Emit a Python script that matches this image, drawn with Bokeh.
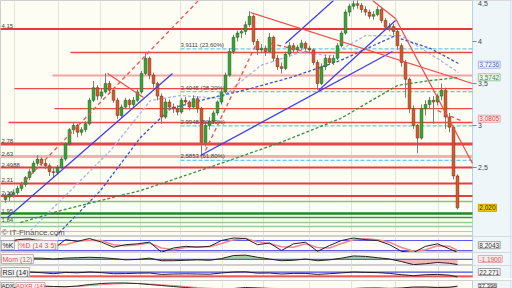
from bokeh.plotting import figure
from bokeh.layouts import column
from bokeh.models import Range1d, FixedTicker, Label, ColumnDataSource
from bokeh.embed import file_html
from bokeh.resources import INLINE

# ---------------- data ----------------
opens = [2.12, 2.15, 2.18, 2.20, 2.25, 2.30, 2.38, 2.45, 2.55, 2.60,
         2.55, 2.52, 2.45, 2.44, 2.50, 2.60, 2.78, 2.95, 3.00, 2.92,
         2.95, 3.02, 3.30, 3.45, 3.35, 3.40, 3.50, 3.42, 3.30, 3.12,
         3.22, 3.30, 3.25, 3.30, 3.40, 3.62, 3.80, 3.60, 3.50, 3.35,
         3.10, 3.28, 3.22, 3.20, 3.16, 3.30, 3.28, 3.22, 3.32, 3.20,
         2.80, 3.00, 3.05, 3.15, 3.28, 3.40, 3.60, 3.88, 4.05, 4.10,
         4.12, 4.20, 4.30, 4.00, 3.90, 3.92, 3.88, 4.05, 3.80, 3.70,
         3.68, 3.85, 3.95, 3.90, 3.93, 3.98, 3.92, 3.90, 3.75, 3.50,
         3.70, 3.80, 3.75, 3.80, 3.95, 4.10, 4.35, 4.42, 4.45, 4.43,
         4.38, 4.35, 4.30, 4.32, 4.38, 4.25, 4.17, 4.18, 4.12, 3.95,
         3.75, 3.55, 3.20, 3.00, 2.85, 3.20, 3.25, 3.30, 3.28, 3.35,
         3.42, 3.10, 2.98, 2.40]
highs = [2.20, 2.21, 2.24, 2.28, 2.33, 2.40, 2.48, 2.58, 2.65, 2.62,
         2.60, 2.55, 2.50, 2.53, 2.63, 2.80, 2.97, 3.04, 3.02, 2.98,
         3.05, 3.33, 3.53, 3.48, 3.44, 3.62, 3.53, 3.45, 3.33, 3.25,
         3.33, 3.32, 3.34, 3.43, 3.65, 3.86, 3.82, 3.63, 3.52, 3.38,
         3.32, 3.31, 3.26, 3.24, 3.33, 3.34, 3.30, 3.36, 3.35, 3.22,
         3.05, 3.10, 3.18, 3.30, 3.43, 3.63, 3.92, 4.08, 4.13, 4.15,
         4.24, 4.36, 4.32, 4.03, 3.97, 3.95, 4.10, 4.07, 3.84, 3.75,
         3.88, 3.99, 3.98, 3.96, 4.02, 4.00, 3.95, 3.92, 3.78, 3.74,
         3.84, 3.83, 3.84, 3.98, 4.13, 4.38, 4.45, 4.49, 4.50, 4.46,
         4.42, 4.38, 4.36, 4.42, 4.40, 4.28, 4.22, 4.21, 4.14, 3.98,
         3.78, 3.57, 3.24, 3.02, 3.25, 3.30, 3.34, 3.35, 3.38, 3.50,
         3.45, 3.15, 3.00, 2.42]
lows = [2.08, 2.10, 2.14, 2.17, 2.22, 2.27, 2.35, 2.43, 2.52, 2.52,
        2.48, 2.40, 2.38, 2.42, 2.48, 2.58, 2.76, 2.90, 2.86, 2.88,
        2.92, 3.00, 3.28, 3.30, 3.32, 3.38, 3.38, 3.27, 3.08, 3.10,
        3.20, 3.20, 3.22, 3.28, 3.38, 3.60, 3.55, 3.45, 3.30, 3.02,
        3.08, 3.18, 3.15, 3.12, 3.14, 3.24, 3.18, 3.20, 3.15, 2.64,
        2.75, 2.95, 3.02, 3.12, 3.25, 3.38, 3.58, 3.85, 4.00, 4.04,
        4.08, 4.17, 3.96, 3.84, 3.86, 3.83, 3.86, 3.76, 3.66, 3.62,
        3.66, 3.82, 3.86, 3.87, 3.90, 3.89, 3.86, 3.72, 3.42, 3.48,
        3.66, 3.72, 3.72, 3.78, 3.93, 4.08, 4.30, 4.38, 4.39, 4.34,
        4.31, 4.27, 4.26, 4.30, 4.22, 4.14, 4.12, 4.08, 3.90, 3.70,
        3.33, 3.15, 2.96, 2.67, 2.83, 3.12, 3.20, 3.02, 3.24, 3.30,
        2.96, 2.92, 2.36, 2.00]
closes = [2.15, 2.18, 2.20, 2.25, 2.30, 2.38, 2.45, 2.55, 2.60, 2.55,
          2.52, 2.45, 2.44, 2.50, 2.60, 2.78, 2.95, 3.00, 2.92, 2.95,
          3.02, 3.30, 3.45, 3.35, 3.40, 3.50, 3.42, 3.30, 3.12, 3.22,
          3.30, 3.25, 3.30, 3.40, 3.62, 3.80, 3.60, 3.50, 3.35, 3.10,
          3.28, 3.22, 3.20, 3.16, 3.30, 3.28, 3.22, 3.32, 3.20, 2.80,
          3.00, 3.05, 3.15, 3.28, 3.40, 3.60, 3.88, 4.05, 4.10, 4.12,
          4.20, 4.30, 4.00, 3.90, 3.92, 3.88, 4.05, 3.80, 3.70, 3.68,
          3.85, 3.95, 3.90, 3.93, 3.98, 3.92, 3.90, 3.75, 3.50, 3.70,
          3.80, 3.75, 3.80, 3.95, 4.10, 4.35, 4.42, 4.45, 4.43, 4.38,
          4.35, 4.30, 4.32, 4.38, 4.25, 4.17, 4.18, 4.12, 3.95, 3.75,
          3.55, 3.20, 3.00, 2.85, 3.20, 3.25, 3.30, 3.28, 3.35, 3.42,
          3.10, 2.98, 2.40, 2.02]

# support / resistance levels
res_levels = [4.15, 3.869, 3.595, 3.44, 3.202, 3.036, 2.78, 2.63, 2.4988, 2.31, 2.16]
res_start = [-1.25, 16.25, 11.75, 2.25, 12.25, 0.75, -1.25, -1.25, -1.25, -1.25, -1.25]
sup_levels = [2.095, 1.952, 1.905, 1.845, 1.798, 1.738]
fib_levels = [3.9111, 3.4044, 2.9948, 2.5853]
fib_labels = ["3,9111 (23,60%)", "3,4045 (38,20%)", "2,9948 (50,00%)", "2,5853 (61,80%)"]
left_labels = ["4,15", "2,78", "2,63", "2,4988", "2,31", "2,16", "1,95", "1,84"]
left_label_levels = [4.15, 2.78, 2.63, 2.4988, 2.31, 2.16, 1.952, 1.845]

# price axis
axis_ticks = [2.5, 3.0, 3.5, 4.0]
axis_labels = ["2,5", "3", "3,5", "4"]
top_label = "4,5"

# moving averages (index, price)
ma_slow_x = [3.75, 13.75, 23.75, 33.75, 41.25, 53.75, 68.75, 83.75, 98, 106.25, 113.25]
ma_slow_y = [1.845, 1.988, 2.107, 2.226, 2.345, 2.548, 2.798, 3.083, 3.476, 3.536, 3.571]
ma_mid_x = [12.5, 23.75, 33.75, 41.25, 48.75, 61.25, 71.25, 83.75, 97, 106.25, 113.25]
ma_mid_y = [1.679, 2.226, 2.857, 3.202, 3.298, 3.44, 3.571, 3.774, 4.06, 3.917, 3.738]
ma_fast_x = [6.25, 16.25, 26.25, 36.25, 43.75, 53.75, 63.75, 73.75, 81.25, 90, 98.75, 108.75, 113.25]
ma_fast_y = [1.75, 2.226, 2.702, 3.298, 3.357, 3.321, 3.714, 3.869, 3.833, 4.071, 4.071, 3.774, 3.631]

# trend lines (index, price)
blue_x0 = [0.5, 48.75, 70, 78.25]
blue_y0 = [1.905, 2.643, 3.976, 3.417]
blue_x1 = [41.75, 96.75, 82, 97.5]
blue_y1 = [3.619, 3.881, 4.488, 4.25]
red_x0 = [61.25, 91.75, 97.5, 25.5]
red_y0 = [4.345, 4.488, 4.274, 3.619]
red_x1 = [116.75, 97.5, 116.75, 34.5]
red_y1 = [3.5, 4.274, 2.548, 3.333]
rdash_x0 = [3.75, 50, 66.25, 108]
rdash_y0 = [2.286, 2.702, 3.976, 3.179]
rdash_x1 = [48.25, 62.5, 77, 113.75]
rdash_y1 = [4.488, 3.952, 3.857, 3.06]

grid_x = [2.25, 13.25, 23.75, 33.75, 43.75, 54.25, 64.5, 76, 86.5, 97.5, 108.25]

# indicators (every third session)
sub_idx = list(range(0, 112, 3)) + [113]
stoch_k = [70, 85, 90, 72, 30, 85, 75, 92, 70, 40, 55, 60, 70, 10, 35, 45, 40, 45, 80, 95,
           92, 55, 65, 20, 60, 70, 15, 50, 80, 95, 85, 80, 55, 15, 8, 45, 60, 30, 8.2]
stoch_d = [65, 78, 85, 82, 55, 55, 75, 82, 80, 55, 48, 55, 65, 35, 25, 38, 42, 42, 62, 85,
           92, 72, 62, 42, 40, 60, 38, 35, 62, 85, 90, 84, 70, 38, 15, 25, 48, 45, 20]
mom = [0.1, 0.2, 0.3, 0.3, 0.1, 0.3, 0.4, 0.5, 0.4, 0.2, -0.1, 0.0, 0.3, -0.3, -0.3, -0.2, -0.1, -0.2, 0.2, 0.9,
       1.0, 0.5, 0.1, -0.3, -0.2, 0.1, -0.3, -0.1, 0.3, 0.8, 0.7, 0.4, 0.1, -0.5, -1.2, -1.0, -0.7, -0.9, -1.19]
rsi = [62, 68, 72, 65, 55, 68, 64, 72, 66, 55, 56, 60, 62, 48, 52, 54, 52, 50, 62, 72,
       74, 60, 62, 52, 58, 58, 48, 55, 63, 72, 68, 66, 58, 45, 35, 45, 48, 40, 22.3]
adx = [30, 32, 35, 38, 36, 35, 38, 44, 48, 50, 50, 48, 44, 40, 36, 32, 28, 25, 24, 28,
       32, 30, 28, 25, 22, 20, 20, 21, 24, 28, 30, 30, 28, 30, 34, 34, 32, 33, 37.4]
adxr = [28, 29, 31, 34, 35, 35, 36, 40, 43, 46, 48, 48, 46, 43, 40, 36, 32, 29, 26, 26,
        28, 30, 29, 27, 25, 22, 21, 21, 22, 25, 27, 29, 29, 29, 31, 33, 33, 33, 35]

# ---------------- styling ----------------
FONT = "Liberation Sans"
BG = "#fdfdf3"
STRIP = "#eef6fa"
X0, XE, XR = -1.25, 116.75, 126.75   # plot start, plot end / strip start, strip end
X_RANGE = Range1d(X0, XR)
W = 512
BOX_X = 118.2


def base_fig(h, y0, y1):
    f = figure(width=W, height=h, x_range=X_RANGE, y_range=Range1d(y0, y1),
               output_backend="svg", toolbar_location=None, x_axis_location=None,
               y_axis_location=None, min_border_left=0, min_border_right=0,
               min_border_top=0, min_border_bottom=0)
    f.background_fill_color = BG
    f.border_fill_color = STRIP
    f.outline_line_color = "#cfcfcf"
    f.xgrid.ticker = FixedTicker(ticks=grid_x)
    f.xgrid.grid_line_color = "#e3e3d6"
    f.ygrid.visible = False
    # right value strip
    f.quad(left=XE, right=XR, bottom=y0, top=y1, fill_color=STRIP, line_color=None)
    f.segment(x0=XE, y0=y0, x1=XE, y1=y1, line_color="#b4d4e4", line_width=1)
    f.segment(x0=126.3, y0=y0, x1=126.3, y1=y1, line_color="#cfe0e8", line_width=1)
    return f


def box(f, x, y, text, color, bg, border, size="6.5px", pad=1):
    f.add_layout(Label(x=x, y=y, text=text, text_font=FONT, text_font_size=size,
                       text_color=color, text_align="left", text_baseline="middle",
                       background_fill_color=bg, border_line_color=border,
                       padding=pad))


def hline(f, y, color, width=1.2, x0=X0, dash="solid"):
    f.segment(x0=x0, y0=y, x1=XE, y1=y, line_color=color, line_width=width, line_dash=dash)


# ---------------- main price panel ----------------
p = base_fig(236, 1.679, 4.488)

res_colors = ["#e43a3a", "#ec4a4a", "#f3a5a5", "#ec4a4a", "#ec4a4a", "#ec4a4a",
              "#e64545", "#f4b0b0", "#e24040", "#e24040", "#e24040"]
res_widths = [2, 1.3, 2, 1.3, 1.3, 1.3, 3, 3, 2, 2, 2]
for lv, x0, c, w in zip(res_levels, res_start, res_colors, res_widths):
    hline(p, lv, c, w, x0)

sup_colors = ["#86c486", "#1f8a1f", "#2f9a2f", "#98cc98", "#98cc98", "#a8d4a8"]
sup_widths = [1.5, 2.5, 1.5, 1.5, 1.5, 1]
for lv, c, w in zip(sup_levels, sup_colors, sup_widths):
    hline(p, lv, c, w)

for lv, t in zip(fib_levels, fib_labels):
    hline(p, lv, "#6cc6ee", 1.3, 43.75, "4 2")
    p.add_layout(Label(x=43.75, y=lv, text=t, text_font=FONT, text_font_size="6px",
                       text_color="#444444", text_baseline="bottom", y_offset=1))

for lv, t in zip(left_label_levels, left_labels):
    p.add_layout(Label(x=-1.0, y=lv, text=t, text_font=FONT, text_font_size="6px",
                       text_color="#444444", text_baseline="bottom", y_offset=1))

# moving averages
p.line(ma_fast_x, ma_fast_y, line_color="#aab2f0", line_width=1.3, line_dash="3 2")
p.line(ma_mid_x, ma_mid_y, line_color="#3a56c4", line_width=1.3, line_dash="3 2")
p.line(ma_slow_x, ma_slow_y, line_color="#3a8a4a", line_width=1.3, line_dash="3 2")

# candles
idx = list(range(len(closes)))
up = [c >= o for o, c in zip(opens, closes)]
src = ColumnDataSource(dict(
    x=idx, high=highs, low=lows,
    top=[max(o, c) for o, c in zip(opens, closes)],
    bottom=[min(o, c) for o, c in zip(opens, closes)],
    fill=["#35a335" if u else "#d45a2c" for u in up],
    edge=["#1c5e1c" if u else "#7a2a12" for u in up],
))
p.segment(x0="x", y0="low", x1="x", y1="high", source=src, line_color="#7c7c7c", line_width=1)
p.vbar(x="x", width=0.7, top="top", bottom="bottom", fill_color="fill",
       line_color="edge", line_width=0.5, source=src)

# trend lines
p.segment(x0=blue_x0, y0=blue_y0, x1=blue_x1, y1=blue_y1, line_color="#3b3bf0", line_width=1.2)
p.segment(x0=red_x0, y0=red_y0, x1=red_x1, y1=red_y1, line_color="#f04848", line_width=1.2)
p.segment(x0=rdash_x0, y0=rdash_y0, x1=rdash_x1, y1=rdash_y1, line_color="#f25050",
          line_width=1.3, line_dash="4 3")

p.add_layout(Label(x=-1.0, y=1.726, text="\u00a9 IT-Finance.com", text_font=FONT,
                   text_font_size="8px", text_color="#555555", text_baseline="middle"))

# price scale in the strip
for t, lab in zip(axis_ticks, axis_labels):
    p.segment(x0=XE, y0=t, x1=XE + 1.0, y1=t, line_color="#888888", line_width=1)
    p.add_layout(Label(x=XE + 1.4, y=t, text=lab, text_font=FONT, text_font_size="7px",
                       text_color="#444444", text_baseline="middle"))
p.add_layout(Label(x=XE + 1.4, y=4.488, text=top_label, text_font=FONT, text_font_size="7px",
                   text_color="#444444", text_baseline="top"))

box(p, BOX_X, 3.7236, "3,7236", "#4a62c0", "#f4f6fc", "#a8b4d8")
box(p, BOX_X, 3.5742, "3,5742", "#2e8a3e", "#f2f8f2", "#9cc8a4")
box(p, BOX_X, 3.0805, "3,0805", "#e04040", "#fbeaea", "#e8a8a8")
box(p, BOX_X, 2.020, "2,020", "#222222", "#f2d000", "#c8a800")

# ---------------- stochastic ----------------
s = base_fig(16, 8, 104)
hline(s, 80, "#5a5af0", 1.2)
hline(s, 20, "#5a5af0", 1.2)
s.line(sub_idx, stoch_d, line_color="#f08a8a", line_width=1.5)
s.line(sub_idx, stoch_k, line_color="#222222", line_width=1)
box(s, -1.0, 52, "%K", "#222222", "#f4f4f4", "#b0b0b0", "7px")
box(s, 3.2, 52, "%D (14 3 5)", "#e05050", "#f8f4f4", "#c8b0b0", "7px")
box(s, BOX_X, 52, "8,2043", "#333333", "#f6f6f6", "#a0a0a0")

# ---------------- momentum ----------------
m = base_fig(13, -1.4, 1.6)
m.varea(x=sub_idx, y1=[0] * len(mom), y2=[max(v, 0) for v in mom], fill_color="#8cc48c", fill_alpha=0.8)
m.varea(x=sub_idx, y1=[0] * len(mom), y2=[min(v, 0) for v in mom], fill_color="#eeaaaa", fill_alpha=0.8)
hline(m, 0, "#5a5af0", 1.2)
m.line(sub_idx, mom, line_color="#222222", line_width=1)
box(m, -1.0, 0.1, "Mom (12)", "#e05050", "#f8f4f4", "#c8b0b0", "7px")
box(m, BOX_X, 0.1, "-1,1900", "#e05050", "#fbeaea", "#e0b0b0")

# ---------------- RSI ----------------
r = base_fig(13, 7, 137)
hline(r, 70, "#4a4af0", 1.2)
hline(r, 30, "#e02020", 1.2)
r.line(sub_idx, rsi, line_color="#222222", line_width=1)
box(r, -1.0, 72, "RSI (14)", "#222222", "#f4f4f4", "#b0b0b0", "7px")
box(r, BOX_X, 72, "22,271", "#333333", "#f6f6f6", "#a0a0a0")

# ---------------- ADX ----------------
a = base_fig(10, 20, 60)
a.line(sub_idx, adxr, line_color="#f08a8a", line_width=1.2)
a.line(sub_idx, adx, line_color="#222222", line_width=1)
box(a, -1.0, 40, "ADX", "#222222", "#f4f4f4", "#b0b0b0", "6px", 0)
box(a, 2.6, 40, "ADXR (14)", "#e05050", "#f8f4f4", "#c8b0b0", "6px", 0)
box(a, BOX_X, 40, "37,396", "#333333", "#f6f6f6", "#a0a0a0", "6px", 0)

layout = column(p, s, m, r, a, spacing=0)
open("out.html", "w").write(file_html(layout, INLINE))
